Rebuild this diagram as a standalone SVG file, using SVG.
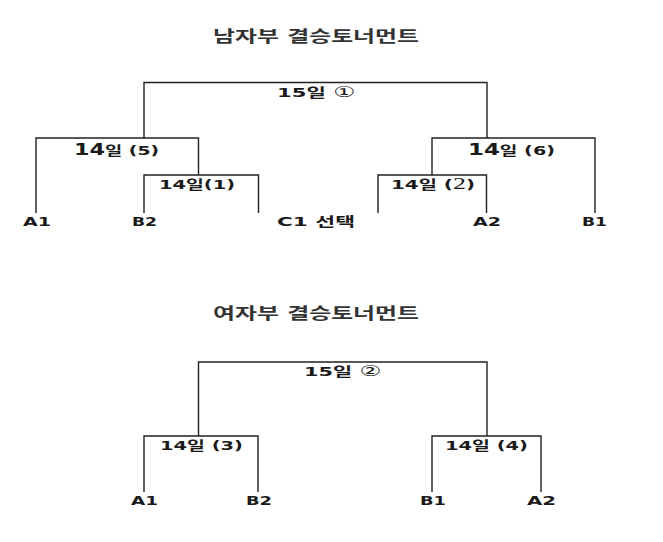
<svg xmlns="http://www.w3.org/2000/svg" width="663" height="542" viewBox="0 0 663 542">
<style>
text{font-family:"DejaVu Sans","Noto Sans CJK KR",sans-serif;font-weight:bold;fill:#1a1a1a}
.title{font-size:15.5px;fill:#333}
.lbl{font-size:13px}
.big{font-size:15.5px}
.team{font-size:13px}
.circ{font-weight:normal;font-size:15px}
.ser{font-family:"Liberation Serif",serif;font-weight:normal;font-size:17px}
.ln{fill:none;stroke:#222;stroke-width:1.4}
</style>
<rect width="663" height="542" fill="#fff"/>
<g id="connectors">
<path class="ln" d="M144,138 V82.5 H487 V138"/>
<path class="ln" d="M36,213 V138 H198.5 V175"/>
<path class="ln" d="M144,213 V175 H258.5 V213"/>
<path class="ln" d="M432,175 V138 H595 V213"/>
<path class="ln" d="M378,213 V175 H486.5 V213"/>
<path class="ln" d="M198.5,436 V362 H487 V436"/>
<path class="ln" d="M144,492 V436 H258 V492"/>
<path class="ln" d="M432,492 V436 H541 V492"/>
</g>
<g id="title-men"><text class="title" x="213" y="42" textLength="206" lengthAdjust="spacingAndGlyphs">남자부 결승토너먼트</text></g>
<g id="match-m-final"><text class="lbl" x="277" y="97" textLength="78" lengthAdjust="spacingAndGlyphs">15일 <tspan class="circ">①</tspan></text></g>
<g id="match-m5"><text class="lbl" x="74" y="155" textLength="85" lengthAdjust="spacingAndGlyphs"><tspan class="big">14</tspan>일 (5)</text></g>
<g id="match-m1"><text class="lbl" x="159" y="189" textLength="76" lengthAdjust="spacingAndGlyphs">14일(1)</text></g>
<g id="match-m6"><text class="lbl" x="468" y="155" textLength="87" lengthAdjust="spacingAndGlyphs"><tspan class="big">14</tspan>일 (6)</text></g>
<g id="match-m2"><text class="lbl" x="391" y="189" textLength="84" lengthAdjust="spacingAndGlyphs">14일 (<tspan class="ser">2</tspan>)</text></g>
<g id="team-m-a1"><text class="team" x="23" y="226" textLength="28" lengthAdjust="spacingAndGlyphs">A1</text></g>
<g id="team-m-b2"><text class="team" x="132" y="226" textLength="25" lengthAdjust="spacingAndGlyphs">B2</text></g>
<g id="team-m-c1"><text class="team" x="277" y="226" textLength="78" lengthAdjust="spacingAndGlyphs">C1 선택</text></g>
<g id="team-m-a2"><text class="team" x="473" y="226" textLength="28" lengthAdjust="spacingAndGlyphs">A2</text></g>
<g id="team-m-b1"><text class="team" x="582" y="226" textLength="25" lengthAdjust="spacingAndGlyphs">B1</text></g>
<g id="title-women"><text class="title" x="213" y="319" textLength="206" lengthAdjust="spacingAndGlyphs">여자부 결승토너먼트</text></g>
<g id="match-w-final"><text class="lbl" x="304" y="376" textLength="77" lengthAdjust="spacingAndGlyphs">15일 <tspan class="circ">②</tspan></text></g>
<g id="match-w3"><text class="lbl" x="160" y="450" textLength="83" lengthAdjust="spacingAndGlyphs">14일 (3)</text></g>
<g id="match-w4"><text class="lbl" x="445" y="450" textLength="83" lengthAdjust="spacingAndGlyphs">14일 (4)</text></g>
<g id="team-w-a1"><text class="team" x="131" y="505" textLength="27" lengthAdjust="spacingAndGlyphs">A1</text></g>
<g id="team-w-b2"><text class="team" x="246" y="505" textLength="26" lengthAdjust="spacingAndGlyphs">B2</text></g>
<g id="team-w-b1"><text class="team" x="420" y="505" textLength="26" lengthAdjust="spacingAndGlyphs">B1</text></g>
<g id="team-w-a2"><text class="team" x="527" y="505" textLength="29" lengthAdjust="spacingAndGlyphs">A2</text></g>
</svg>
